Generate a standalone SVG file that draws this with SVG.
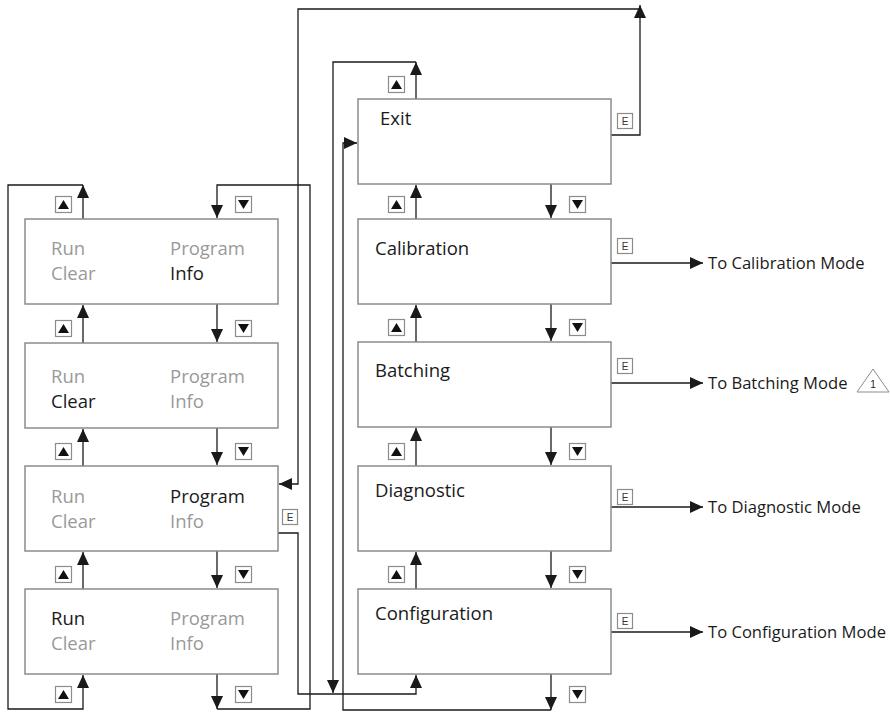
<svg xmlns="http://www.w3.org/2000/svg" width="890" height="713" viewBox="0 0 890 713">
<defs>
<marker id="ah" markerUnits="userSpaceOnUse" markerWidth="13" markerHeight="13" refX="13" refY="6.5" orient="auto">
<path d="M0,0.5 L13,6.5 L0,12.5 z" fill="#1a1a1a"/>
</marker>
<g id="up"><rect x="0.5" y="0.5" width="16" height="16" fill="#fff" stroke="#8c8c8c" stroke-width="1.2"/><path d="M3,13 L8.5,4 L14,13 z" fill="#111"/></g>
<g id="dn"><rect x="0.5" y="0.5" width="16" height="16" fill="#fff" stroke="#8c8c8c" stroke-width="1.2"/><path d="M3,4 L14,4 L8.5,13 z" fill="#111"/></g>
<g id="ek"><rect x="0.5" y="0.5" width="15" height="15" fill="#fff" stroke="#8c8c8c" stroke-width="1.2"/><text x="8" y="12" text-anchor="middle" font-family="Liberation Sans, Arial, sans-serif" font-size="10" fill="#333">E</text></g>
</defs>
<style>
.box{fill:#fff;stroke:#8c8c8c;stroke-width:1.5}
.c{fill:none;stroke:#1a1a1a;stroke-width:1.3}
.a{marker-end:url(#ah)}
.t{font-family:"Open Sans","Liberation Sans",Arial,sans-serif;font-size:18.5px}
.g{fill:#999}
.k{fill:#1a1a1a}
.o{font-family:"Open Sans","Liberation Sans",Arial,sans-serif;font-size:16.6px;fill:#1a1a1a}
</style>
<rect width="890" height="713" fill="#fff"/>

<g id="connectors">
<path class="c a" d="M83,219 V185"/>
<path class="c a" d="M83,185 H8 V709 H83 V675"/>
<path class="c a" d="M83,343 V305"/>
<path class="c a" d="M83,466 V429"/>
<path class="c a" d="M83,589 V552"/>
<path class="c a" d="M217,304 V342"/>
<path class="c a" d="M217,428 V465"/>
<path class="c a" d="M217,551 V588"/>
<path class="c a" d="M217,674 V709"/>
<path class="c a" d="M217,709 H310 V185 H217 V218"/>
<path class="c a" d="M278,533 H298 V694 H416 V675"/>
<path class="c a" d="M611,135 H640 V5"/>
<path class="c a" d="M640,9 H298 V484 H279"/>
<path class="c a" d="M416,99 V62"/>
<path class="c a" d="M416,62 H333 V693"/>
<path class="c a" d="M416,219 V185"/>
<path class="c a" d="M416,342 V305"/>
<path class="c a" d="M416,466 V428"/>
<path class="c a" d="M416,589 V552"/>
<path class="c a" d="M551,184 V218"/>
<path class="c a" d="M551,304 V341"/>
<path class="c a" d="M551,427 V465"/>
<path class="c a" d="M551,551 V588"/>
<path class="c a" d="M551,674 V710"/>
<path class="c a" d="M551,710 H343 V143 H357"/>
<path class="c a" d="M611,263 H703"/>
<path class="c a" d="M611,383 H703"/>
<path class="c a" d="M611,507 H703"/>
<path class="c a" d="M611,632 H703"/>
</g>

<g id="keys">
<use href="#up" x="55" y="196"/><use href="#up" x="55" y="320"/><use href="#up" x="55" y="443"/><use href="#up" x="55" y="566"/><use href="#up" x="55" y="686"/>
<use href="#dn" x="235" y="196"/><use href="#dn" x="235" y="320"/><use href="#dn" x="235" y="443"/><use href="#dn" x="235" y="566"/><use href="#dn" x="235" y="686"/>
<use href="#up" x="388" y="76"/><use href="#up" x="388" y="196"/><use href="#up" x="388" y="319"/><use href="#up" x="388" y="443"/><use href="#up" x="388" y="566"/>
<use href="#dn" x="569" y="196"/><use href="#dn" x="569" y="319"/><use href="#dn" x="569" y="443"/><use href="#dn" x="569" y="566"/><use href="#dn" x="569" y="686"/>
<use href="#ek" x="282" y="509"/>
<use href="#ek" x="617" y="113"/><use href="#ek" x="617" y="238"/><use href="#ek" x="617" y="358"/><use href="#ek" x="617" y="489"/><use href="#ek" x="617" y="613"/>
</g>

<g id="menu-info">
<rect class="box" x="25" y="219" width="253" height="85"/>
<text class="t g" x="51" y="255">Run</text><text class="t g" x="51" y="280">Clear</text>
<text class="t g" x="170" y="255">Program</text><text class="t k" x="170" y="280">Info</text>
</g>
<g id="menu-clear">
<rect class="box" x="25" y="343" width="253" height="85"/>
<text class="t g" x="51" y="383">Run</text><text class="t k" x="51" y="408">Clear</text>
<text class="t g" x="170" y="383">Program</text><text class="t g" x="170" y="408">Info</text>
</g>
<g id="menu-program">
<rect class="box" x="25" y="466" width="253" height="85"/>
<text class="t g" x="51" y="503">Run</text><text class="t g" x="51" y="528">Clear</text>
<text class="t k" x="170" y="503">Program</text><text class="t g" x="170" y="528">Info</text>
</g>
<g id="menu-run">
<rect class="box" x="25" y="589" width="253" height="85"/>
<text class="t k" x="51" y="625">Run</text><text class="t g" x="51" y="650">Clear</text>
<text class="t g" x="170" y="625">Program</text><text class="t g" x="170" y="650">Info</text>
</g>

<g id="exit">
<rect class="box" x="358" y="99" width="253" height="85"/>
<text class="t k" x="380" y="125">Exit</text>
</g>
<g id="calibration">
<rect class="box" x="358" y="219" width="253" height="85"/>
<text class="t k" x="375" y="255">Calibration</text>
</g>
<g id="batching">
<rect class="box" x="358" y="342" width="253" height="85"/>
<text class="t k" x="375" y="377">Batching</text>
</g>
<g id="diagnostic">
<rect class="box" x="358" y="466" width="253" height="85"/>
<text class="t k" x="375" y="497">Diagnostic</text>
</g>
<g id="configuration">
<rect class="box" x="358" y="589" width="253" height="85"/>
<text class="t k" x="375" y="620">Configuration</text>
</g>

<g id="to-calibration"><text class="o" x="708" y="269">To Calibration Mode</text></g>
<g id="to-batching"><text class="o" x="708" y="389">To Batching Mode</text>
<polygon points="857,392 873,369 889,392" fill="#fff" stroke="#8c8c8c" stroke-width="1"/>
<text x="873" y="388" text-anchor="middle" font-family="Liberation Sans, Arial, sans-serif" font-size="10" fill="#1a1a1a">1</text></g>
<g id="to-diagnostic"><text class="o" x="708" y="513">To Diagnostic Mode</text></g>
<g id="to-configuration"><text class="o" x="708" y="638">To Configuration Mode</text></g>
</svg>
